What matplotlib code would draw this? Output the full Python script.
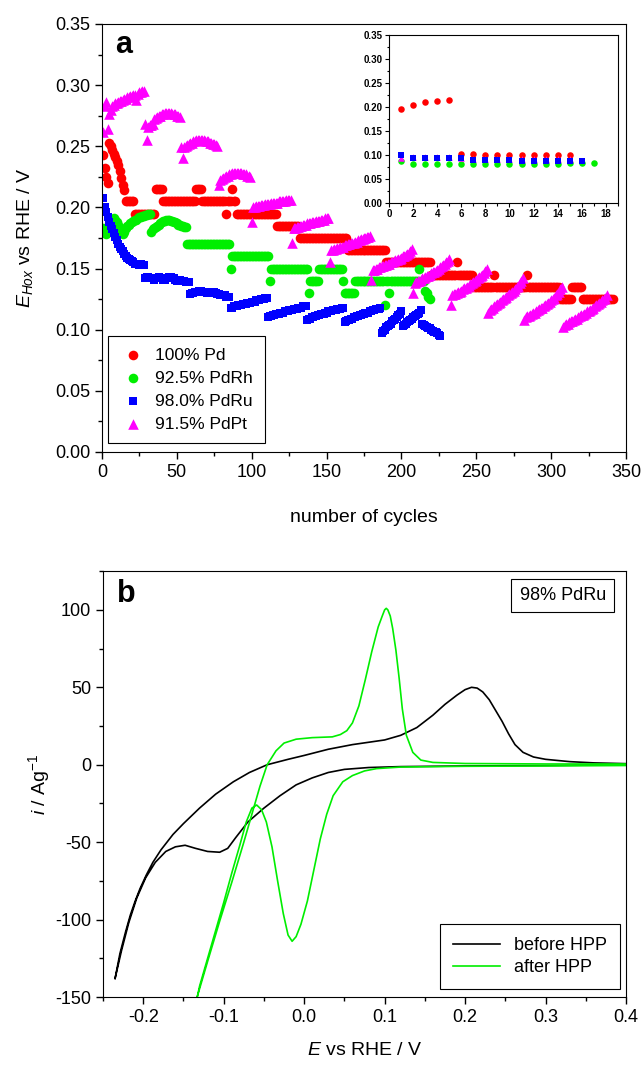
import numpy as np
import matplotlib
matplotlib.use('Agg')
import matplotlib.pyplot as plt
from matplotlib.ticker import MultipleLocator, FormatStrFormatter

plt.rcParams['font.family'] = ['Liberation Sans', 'DejaVu Sans']
plt.rcParams['mathtext.fontset'] = 'custom'
plt.rcParams['mathtext.rm'] = 'Liberation Sans'
plt.rcParams['mathtext.it'] = 'Liberation Sans:italic'
plt.rcParams['axes.unicode_minus'] = False

# ---- panel a : E_Hox per cycle (mV) ----
pd_mv = ([243, 232, 225, 220, 253, 250, 247, 244, 241, 238, 235, 230, 224, 218, 214]
         + [205]*6 + [195]*14 + [215]*5 + [205]*22 + [215]*4 + [205]*16 + [195] + [205]*3
         + [215] + [205]*2 + [195]*27 + [185]*15 + [175]*32 + [165]*26 + [155]*30
         + [145]*17 + [155] + [145]*10 + [135]*14 + [145] + [135]*21 + [145] + [135]*21
         + [125]*8 + [135]*7 + [125]*21)

rh_mv = ([183, 180, 178, 180, 185, 188, 190, 191, 190, 188, 186, 183, 180, 178, 180, 183,
          185, 186, 187, 188, 189, 190, 190, 191, 192, 192, 193, 193, 194, 194, 195, 195,
          180, 182, 183, 184, 185, 186, 187, 188, 189, 189, 190, 190, 190, 189, 189, 188,
          188, 187, 186, 186, 185, 185, 184, 184]
         + [170]*29 + [150] + [160]*25 + [140] + [150]*25 + [130] + [140]*6 + [150]*16
         + [140] + [130]*7 + [140]*20 + [120] + [140]*2 + [130] + [140]*19 + [150]
         + [140]*3 + [132, 130, 127, 125])

ru_mv = [208, 200, 196, 192, 188, 185, 182, 179, 176, 173, 170, 168, 166, 164, 162, 160, 159, 158, 157, 156,
         155, 154, 154, 154, 153, 154, 153, 153,
         142, 143, 143, 142, 142, 142, 141, 142, 142, 143, 142, 142, 141, 141, 142, 142, 143, 143, 142, 142,
         141, 140, 141, 141, 140, 140, 140, 139, 139, 139,
         129, 130, 130, 131, 131, 131, 132, 132, 131, 131, 131, 130, 130, 130, 130, 131, 131, 130, 129, 129,
         128, 128, 128, 128, 127, 127, 127,
         118, 118, 119, 119, 119, 120, 120, 120, 121, 121, 121, 122, 122, 122, 123, 123, 123, 124, 124, 124,
         125, 125, 125, 126, 126,
         110, 111, 111, 112, 112, 113, 113, 113, 114, 114, 114, 115, 115, 115, 116, 116, 116, 117, 117, 117,
         118, 118, 118, 119, 119, 119,
         108, 109, 109, 110, 110, 111, 111, 112, 112, 113, 113, 113, 114, 114, 115, 115, 115, 116, 116, 116,
         117, 117, 117, 118, 118,
         106, 107, 108, 108, 109, 109, 110, 110, 111, 111, 112, 112, 113, 113, 114, 114, 114, 115, 115, 116,
         116, 117, 117, 117, 118,
         97, 99, 100, 102, 103, 104, 105, 107, 108, 109, 110, 112, 113, 115,
         103, 104, 105, 106, 107, 108, 109, 110, 111, 112, 113, 114, 116,
         105, 104, 103, 102, 101, 101, 100, 99, 98, 98, 97, 96, 95]

pt_mv = [262, 283, 286, 264, 276, 280, 283,
         284, 285, 285, 286, 287, 287, 288, 289, 289, 290, 290, 291, 291, 292, 292, 288, 293, 294, 294, 295, 295,
         268, 255, 266, 267, 267, 268,
         272, 273, 274, 275, 275, 276, 276, 277, 277, 277, 277, 277, 276, 276, 276, 275, 275, 274,
         249, 240,
         249, 250, 251, 252, 253, 253, 254, 254, 255, 255, 255, 255, 255, 255, 254, 254, 254, 253, 253, 252,
         252, 251, 250,
         218,
         222, 223, 224, 225, 226, 226, 227, 227, 228, 228, 228, 228, 228, 228, 228, 227, 227, 227, 226, 226, 225,
         188,
         200, 200, 201, 201, 201, 202, 202, 202, 203, 203, 203, 203, 204, 204, 204, 204, 204, 205, 205, 205,
         205, 205, 206, 206, 206, 206,
         171,
         183, 183, 184, 184, 185, 185, 186, 186, 186, 187, 187, 187, 188, 188, 188, 189, 189, 189, 190, 190,
         190, 191, 191, 191,
         155,
         165, 165, 166, 166, 167, 167, 168, 168, 168, 169, 169, 170, 170, 171, 171, 171, 172, 172, 173, 173,
         174, 174, 175, 175, 176, 176, 177,
         141,
         149, 149, 150, 150, 151, 151, 152, 152, 153, 153, 154, 154, 155, 155, 156, 157, 157, 158, 158, 159,
         160, 160, 161, 162, 163, 164, 166,
         130,
         138, 139, 140, 140, 141, 142, 142, 143, 144, 144, 145, 146, 147, 147, 148, 149, 150, 151, 152, 153,
         154, 155, 156, 158,
         120,
         128, 129, 129, 130, 131, 131, 132, 133, 134, 134, 135, 136, 137, 138, 139, 140, 141, 142, 143, 144,
         145, 146, 148, 150,
         114,
         116, 117, 118, 119, 120, 121, 122, 123, 124, 125, 126, 127, 128, 129, 130, 131, 132, 133, 135, 136,
         138, 140, 142,
         108,
         110, 111, 111, 112, 113, 114, 114, 115, 116, 117, 118, 118, 119, 120, 121, 122, 123, 124, 125, 126,
         128, 129, 131, 133, 135,
         102,
         104, 105, 105, 106, 107, 107, 108, 109, 109, 110, 111, 112, 112, 113, 114, 115, 115, 116, 117, 118,
         119, 120, 121, 122, 123, 124, 125, 126, 128]

labels_a = ['100% Pd', '92.5% PdRh', '98.0% PdRu', '91.5% PdPt']

# inset values (V)
in_pd = [0.195, 0.205, 0.211, 0.213, 0.215, 0.102, 0.102, 0.101, 0.101, 0.101, 0.099, 0.099, 0.099, 0.099, 0.099]
in_rh = [0.088, 0.082, 0.082, 0.082, 0.082, 0.082, 0.082, 0.082, 0.082, 0.082, 0.082, 0.082, 0.082, 0.082,
         0.083, 0.083, 0.084]
in_ru = [0.101, 0.093, 0.093, 0.093, 0.093, 0.094, 0.089, 0.089, 0.089, 0.089, 0.088, 0.088, 0.088, 0.088,
         0.088, 0.088]
in_pt = [0.093, 0.096, 0.096, 0.096, 0.096, 0.093, 0.092, 0.092, 0.092, 0.092, 0.092, 0.092, 0.092, 0.092, 0.092]

# ---- panel b : cyclic voltammograms ----
before_E = [-0.235, -0.229, -0.222, -0.216, -0.210, -0.204, -0.196, -0.188, -0.178, -0.163, -0.150, -0.130,
            -0.110, -0.088, -0.068, -0.046, -0.020, 0.000, 0.030, 0.060, 0.100, 0.120, 0.140, 0.160, 0.175,
            0.190, 0.200, 0.208, 0.215, 0.222, 0.230, 0.238, 0.246, 0.254, 0.262, 0.272, 0.285, 0.300, 0.330,
            0.360, 0.400,
            0.400, 0.300, 0.200, 0.120, 0.080, 0.050, 0.030, 0.010, -0.010, -0.030, -0.050, -0.070, -0.085,
            -0.095, -0.105, -0.120, -0.135, -0.148, -0.160, -0.172, -0.185, -0.197, -0.208, -0.218, -0.227,
            -0.235]
before_i = [-138, -122, -108, -97, -88, -80, -71, -63, -55, -45, -38, -28,
            -19, -11, -5, 0, 3.5, 6, 10, 13, 16, 19, 24, 32, 39,
            45, 48.5, 50, 49.5, 47, 42, 35, 28, 20, 13, 8, 5, 3.5, 2,
            1.2, 0.7,
            0, -0.5, -0.8, -1.2, -1.8, -3, -5, -8.5, -13, -20, -28, -37, -47,
            -54, -56.5, -56, -54, -52, -53, -56, -63, -73, -86, -102, -120,
            -138]

after_E = [-0.139, -0.133, -0.120, -0.105, -0.090, -0.075, -0.065, -0.055, -0.046, -0.035, -0.025, -0.010,
           0.010, 0.035, 0.045, 0.053, 0.060, 0.068, 0.076, 0.084, 0.092, 0.097, 0.100, 0.102, 0.104, 0.107,
           0.110, 0.114, 0.118, 0.122, 0.127, 0.135, 0.145, 0.160, 0.200, 0.300, 0.400,
           0.400, 0.300, 0.200, 0.120, 0.090, 0.075, 0.060, 0.048, 0.036, 0.028, 0.020, 0.012, 0.004,
           -0.004, -0.010, -0.015, -0.020, -0.026, -0.033, -0.040, -0.047, -0.053, -0.059, -0.065, -0.072,
           -0.080, -0.090, -0.100, -0.110, -0.120, -0.130, -0.137]
after_i = [-160, -150, -127, -101, -76, -50, -32, -14, 0, 9, 14, 16.5,
           17.5, 18, 19.5, 22, 27, 38, 55, 73, 89, 96, 100, 101, 100, 96,
           88, 74, 56, 36, 19, 8, 3, 1.5, 0.8, 0.5, 0.5,
           -0.5, -0.8, -1, -1.5, -2.5, -4, -7, -11, -20, -32, -48, -68, -88,
           -103, -111, -114, -110, -96, -75, -53, -37, -29, -26, -28, -37,
           -52, -70, -89, -107, -125, -143, -160]

fig = plt.figure(figsize=(6.43, 10.70), dpi=100)

# panel a
ax = fig.add_axes([0.1586, 0.5776, 0.815, 0.400])
series = [(pd_mv, 'o', '#ff0000', 48), (rh_mv, 'o', '#00ee00', 48),
          (ru_mv, 's', '#0000ff', 40), (pt_mv, '^', '#ff00ff', 58)]
for (vals, mk, col, sz), lab in zip(series, labels_a):
    cyc = np.arange(1, len(vals) + 1)
    ax.scatter(cyc, np.array(vals) / 1000.0, s=sz, marker=mk, color=col, linewidths=0, label=lab)
ax.set_xlim(0, 350)
ax.set_ylim(0, 0.35)
ax.xaxis.set_major_locator(MultipleLocator(50))
ax.xaxis.set_minor_locator(MultipleLocator(25))
ax.yaxis.set_major_locator(MultipleLocator(0.05))
ax.yaxis.set_minor_locator(MultipleLocator(0.025))
ax.yaxis.set_major_formatter(FormatStrFormatter('%.2f'))
ax.tick_params(which='both', direction='out', labelsize=13, width=1)
ax.tick_params(which='major', length=5)
ax.tick_params(which='minor', length=3)
ax.set_xlabel('number of cycles', fontsize=14, labelpad=20)
ax.set_ylabel('$E_{Hox}$ vs RHE / V', fontsize=14, labelpad=14)
ax.text(0.025, 0.95, 'a', transform=ax.transAxes, fontsize=22, fontweight='bold', va='center')
leg = ax.legend(loc='lower left', bbox_to_anchor=(0.011, 0.021), borderaxespad=0, fontsize=12.5,
                fancybox=False, edgecolor='black', framealpha=1, labelspacing=0.45,
                handletextpad=0.5, handlelength=1.6, borderpad=0.65, scatterpoints=1)
leg.get_frame().set_linewidth(0.8)

# inset
axi = fig.add_axes([0.605, 0.8103, 0.356, 0.157])
for vals, mk, col in [(in_pd, 'o', '#ff0000'), (in_rh, 'o', '#00ee00'),
                      (in_pt, '^', '#ff00ff'), (in_ru, 's', '#0000ff')]:
    axi.scatter(np.arange(1, len(vals) + 1), vals, s=22, marker=mk, color=col, linewidths=0)
axi.set_xlim(0, 19)
axi.set_ylim(0, 0.35)
axi.xaxis.set_major_locator(MultipleLocator(2))
axi.xaxis.set_minor_locator(MultipleLocator(1))
axi.yaxis.set_major_locator(MultipleLocator(0.05))
axi.yaxis.set_minor_locator(MultipleLocator(0.025))
axi.yaxis.set_major_formatter(FormatStrFormatter('%.2f'))
axi.tick_params(which='both', direction='out', labelsize=7, width=0.8, pad=1.5)
axi.tick_params(which='major', length=3)
axi.tick_params(which='minor', length=1.8)
for t in axi.get_xticklabels() + axi.get_yticklabels():
    t.set_fontweight('bold')

# panel b
bx = fig.add_axes([0.1602, 0.0682, 0.8134, 0.398])
bx.plot(before_E, before_i, color='black', lw=1.2, label='before HPP')
bx.plot(after_E, after_i, color='#00ee00', lw=1.2, label='after HPP')
bx.set_xlim(-0.25, 0.4)
bx.set_ylim(-150, 125)
bx.xaxis.set_major_locator(MultipleLocator(0.1))
bx.xaxis.set_minor_locator(MultipleLocator(0.05))
bx.yaxis.set_major_locator(MultipleLocator(50))
bx.yaxis.set_minor_locator(MultipleLocator(25))
bx.xaxis.set_major_formatter(FormatStrFormatter('%.1f'))
bx.tick_params(which='both', direction='out', labelsize=13, width=1)
bx.tick_params(which='major', length=5)
bx.tick_params(which='minor', length=3)
bx.set_xlabel('$E$ vs RHE / V', fontsize=14, labelpad=12)
bx.set_ylabel('$i$ / Ag$^{-1}$', fontsize=14, labelpad=2)
bx.text(0.027, 0.946, 'b', transform=bx.transAxes, fontsize=22, fontweight='bold', va='center')
bx.text(0.879, 0.9425, '98% PdRu', transform=bx.transAxes, fontsize=13, ha='center', va='center',
        bbox=dict(boxstyle='square,pad=0.45', facecolor='white', edgecolor='black', linewidth=0.8))
leg2 = bx.legend(loc='lower right', bbox_to_anchor=(0.9885, 0.019), borderaxespad=0, fontsize=13,
                 fancybox=False, edgecolor='black', framealpha=1, handlelength=2.6,
                 labelspacing=0.3, borderpad=0.7)
leg2.get_frame().set_linewidth(0.8)

fig.savefig('out.png', dpi=100)
